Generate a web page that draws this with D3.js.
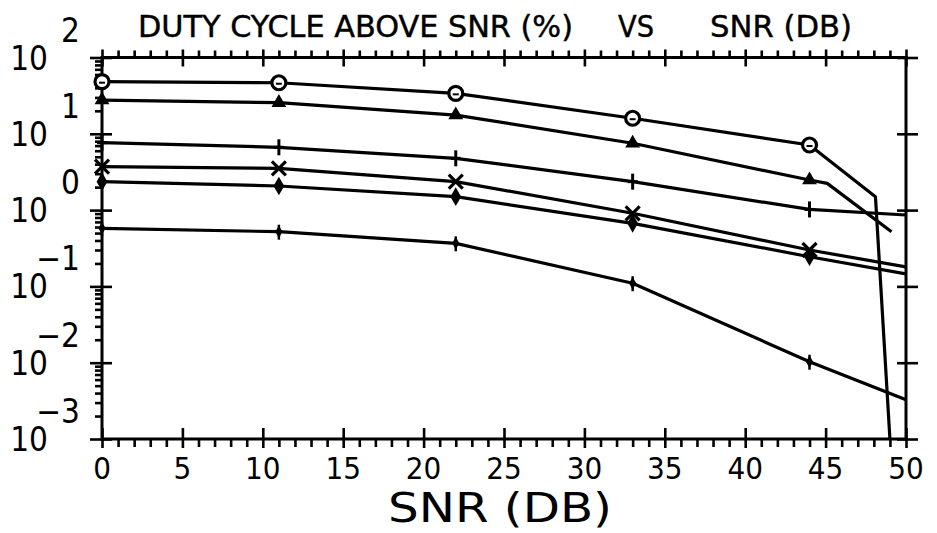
<!DOCTYPE html>
<html>
<head>
<meta charset="utf-8">
<script src="https://cdn.jsdelivr.net/npm/d3@7"></script>
<style>
  html, body { margin: 0; padding: 0; background: #fff; }
  svg { display: block; }
  text { font-family: "Liberation Sans Narrow", "DejaVu Sans Condensed", "Liberation Sans", sans-serif; fill: #000; }
</style>
</head>
<body>
<svg id="chart" width="937" height="533"></svg>
<script>
// ---------------- DATA ----------------
const titleParts = ["DUTY CYCLE ABOVE SNR (%)", "VS", "SNR (DB)"];
const xAxisTitle = "SNR (DB)";
const xTickValues = [0, 5, 10, 15, 20, 25, 30, 35, 40, 45, 50];
const yDecades = [1e-3, 1e-2, 1e-1, 1e0, 1e1, 1e2];
const yExponents = ["−3", "−2", "−1", "0", "1", "2"];

const snrMarkers = [0, 11, 22, 33, 44];

const circleValues = [48.2, 46.7, 33.9, 16.0, 7.13];
const circleTailSnr = [48.1, 49.0];
const circleTailValues = [1.50, 0.001];

const triangleValues = [27.7, 25.6, 17.6, 7.51, 2.48];
const triangleTailSnr = [45.1, 49.1];
const triangleTailValues = [2.24, 0.52];

const plusValues = [7.64, 6.65, 4.77, 2.36, 1.02];
const plusTailSnr = [50];
const plusTailValues = [0.862];

const crossValues = [3.71, 3.53, 2.36, 0.908, 0.300];
const crossTailSnr = [50];
const crossTailValues = [0.180];

const diamondValues = [2.36, 2.07, 1.50, 0.671, 0.245];
const diamondTailSnr = [50];
const diamondTailValues = [0.146];

const smallValues = [0.577, 0.521, 0.367, 0.110, 0.0103];
const smallTailSnr = [50];
const smallTailValues = [0.00326];

// ---------------- LAYOUT ----------------
const svg = d3.select("#chart");
const x = d3.scaleLinear().domain([0, 50]).range([102, 906]);
const y = d3.scaleLog().domain([1e-3, 1e2]).range([439, 57.5]);
const x0 = x(0), x1 = x(50), yTop = y(1e2), yBot = y(1e-3);

const series = [
  { name: "circle", vals: circleValues, tx: circleTailSnr, tv: circleTailValues },
  { name: "triangle", vals: triangleValues, tx: triangleTailSnr, tv: triangleTailValues },
  { name: "plus", vals: plusValues, tx: plusTailSnr, tv: plusTailValues },
  { name: "cross", vals: crossValues, tx: crossTailSnr, tv: crossTailValues },
  { name: "diamond", vals: diamondValues, tx: diamondTailSnr, tv: diamondTailValues },
  { name: "small", vals: smallValues, tx: smallTailSnr, tv: smallTailValues }
];

// clip
svg.append("defs").append("clipPath").attr("id", "plotclip")
  .append("rect").attr("x", x0).attr("y", yTop - 2).attr("width", x1 - x0).attr("height", yBot - yTop + 4);

// minor tick values for log axis
const yMinor = [];
for (let e = -3; e < 2; e++) for (let m = 2; m <= 9; m++) yMinor.push(m * Math.pow(10, e));
const xMinor = d3.range(0, 51, 1).filter(v => v % 5 !== 0);

function styleAxis(g) {
  g.select(".domain").remove();
  g.selectAll(".tick line").attr("stroke", "#000").attr("stroke-width", 2.6);
  g.selectAll(".tick text").remove();
}

// bottom axis
svg.append("g").attr("transform", `translate(0,${yBot})`)
  .call(d3.axisBottom(x).tickValues(xTickValues).tickSize(9)).call(styleAxis);
svg.append("g").attr("transform", `translate(0,${yBot})`)
  .call(d3.axisTop(x).tickValues(xTickValues).tickSize(11)).call(styleAxis);
svg.append("g").attr("transform", `translate(0,${yBot})`)
  .call(d3.axisBottom(x).tickValues(xMinor).tickSize(8)).call(styleAxis);
// top axis
svg.append("g").attr("transform", `translate(0,${yTop})`)
  .call(d3.axisTop(x).tickValues(xTickValues).tickSize(8)).call(styleAxis);
svg.append("g").attr("transform", `translate(0,${yTop})`)
  .call(d3.axisBottom(x).tickValues(xTickValues).tickSize(9)).call(styleAxis);
svg.append("g").attr("transform", `translate(0,${yTop})`)
  .call(d3.axisTop(x).tickValues(xMinor).tickSize(7)).call(styleAxis);
// left axis
svg.append("g").attr("transform", `translate(${x0},0)`)
  .call(d3.axisLeft(y).tickValues(yDecades).tickSize(12)).call(styleAxis);
svg.append("g").attr("transform", `translate(${x0},0)`)
  .call(d3.axisRight(y).tickValues(yDecades).tickSize(10)).call(styleAxis);
svg.append("g").attr("transform", `translate(${x0},0)`)
  .call(d3.axisLeft(y).tickValues(yMinor).tickSize(7)).call(styleAxis);
// right axis
svg.append("g").attr("transform", `translate(${x1},0)`)
  .call(d3.axisRight(y).tickValues(yDecades).tickSize(12)).call(styleAxis);
svg.append("g").attr("transform", `translate(${x1},0)`)
  .call(d3.axisLeft(y).tickValues(yDecades).tickSize(9)).call(styleAxis);

// frame
svg.append("rect").attr("x", x0).attr("y", yTop).attr("width", x1 - x0).attr("height", yBot - yTop)
  .attr("fill", "none").attr("stroke", "#000").attr("stroke-width", 3);

// x tick labels
svg.append("g").selectAll("text").data(xTickValues).join("text")
  .attr("x", d => x(d)).attr("y", 479).attr("text-anchor", "middle")
  .attr("font-size", 31).text(d => d);

// y tick labels
const yl = svg.append("g");
yl.selectAll("text.base").data(yDecades).join("text").attr("class", "base")
  .attr("x", 48).attr("y", d => y(d) + 12).attr("text-anchor", "end")
  .attr("font-size", 33).text("10");
yl.selectAll("text.exp").data(yDecades).join("text").attr("class", "exp")
  .attr("x", 80).attr("y", d => y(d) - 16).attr("text-anchor", "end")
  .attr("font-size", 33).text((d, i) => yExponents[i]);

// titles
const tg = svg.append("g").attr("font-size", 30).attr("stroke", "#000").attr("stroke-width", 0.4);
tg.append("text").attr("x", 138).attr("y", 37).attr("textLength", 435).attr("lengthAdjust", "spacingAndGlyphs").text(titleParts[0]);
tg.append("text").attr("x", 618).attr("y", 37).attr("textLength", 36).attr("lengthAdjust", "spacingAndGlyphs").text(titleParts[1]);
tg.append("text").attr("x", 710).attr("y", 37).attr("textLength", 142).attr("lengthAdjust", "spacingAndGlyphs").text(titleParts[2]);

svg.append("text").attr("x", 388).attr("y", 522).attr("font-size", 40)
  .attr("textLength", 224).attr("lengthAdjust", "spacingAndGlyphs").text(xAxisTitle);

// lines
const line = d3.line().x(d => x(d[0])).y(d => y(d[1])).curve(d3.curveLinear);
const plot = svg.append("g").attr("clip-path", "url(#plotclip)");
series.forEach(s => {
  const pts = snrMarkers.map((v, i) => [v, s.vals[i]]).concat(s.tx.map((v, i) => [v, s.tv[i]]));
  plot.append("path").datum(pts).attr("d", line)
    .attr("fill", "none").attr("stroke", "#000").attr("stroke-width", 3.2).attr("stroke-linejoin", "round");
});

// markers
const mk = svg.append("g");
series.forEach(s => {
  snrMarkers.forEach((v, i) => {
    const cx = x(v), cy = y(s.vals[i]);
    const g = mk.append("g").attr("transform", `translate(${cx},${cy})`);
    if (s.name === "circle") {
      g.append("circle").attr("r", 7).attr("fill", "#fff").attr("stroke", "#000").attr("stroke-width", 3.2);
      g.append("line").attr("x1", -3).attr("x2", 3).attr("y1", 1).attr("y2", 1).attr("stroke", "#000").attr("stroke-width", 2);
    } else if (s.name === "triangle") {
      g.append("path").attr("d", d3.symbol(d3.symbolTriangle, 95)()).attr("fill", "#000");
    } else if (s.name === "plus") {
      g.append("line").attr("x1", 0).attr("x2", 0).attr("y1", -8).attr("y2", 8).attr("stroke", "#000").attr("stroke-width", 3);
      g.append("line").attr("x1", -5).attr("x2", 5).attr("y1", 0).attr("y2", 0).attr("stroke", "#000").attr("stroke-width", 3);
    } else if (s.name === "cross") {
      g.append("path").attr("d", "M-7,-7L7,7M-7,7L7,-7").attr("stroke", "#000").attr("stroke-width", 3.2);
    } else if (s.name === "diamond") {
      g.append("path").attr("d", d3.symbol(d3.symbolDiamond, 100)()).attr("fill", "#000");
    } else {
      g.append("path").attr("d", d3.symbol(d3.symbolDiamond, 45)()).attr("fill", "#000");
      g.append("line").attr("x1", 0).attr("x2", 0).attr("y1", -7).attr("y2", 8).attr("stroke", "#000").attr("stroke-width", 2.5);
    }
  });
});
</script>
</body>
</html>
